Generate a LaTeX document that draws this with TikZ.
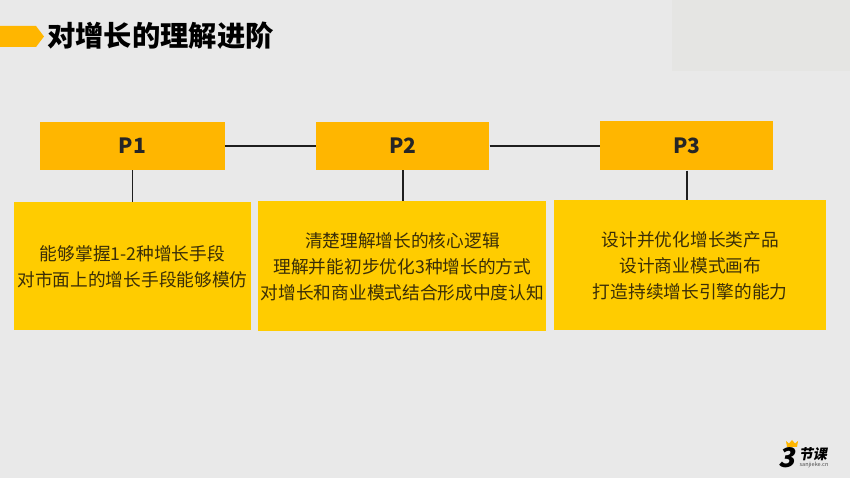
\documentclass[tikz,border=0pt]{standalone}
\usepackage{fontspec}
\setmainfont{Noto Sans CJK SC}
\usetikzlibrary{positioning}
\definecolor{pagegray}{HTML}{E9E9E9}
\definecolor{patchgray}{HTML}{E5E5E3}
\definecolor{headorange}{HTML}{FFB600}
\definecolor{bodyyellow}{HTML}{FFCC00}
\definecolor{bodytext}{HTML}{3A2E08}
\definecolor{linedark}{HTML}{1E1E1E}
\tikzset{
head/.style={rectangle,minimum width=173pt,minimum height=48pt,inner sep=0pt,
fill=headorange,text=black!85,font=\fontsize{21pt}{24pt}\selectfont\bfseries},
body/.style={rectangle,minimum height=129pt,inner sep=0pt,align=center,
fill=bodyyellow,text=bodytext,font=\fontsize{17.7pt}{26pt}\selectfont},
link/.style={draw=linedark,line width=1.5pt}
}

\begin{document}
\begin{tikzpicture}[x=1pt,y=1pt]
\fill[pagegray] (0,0) rectangle (850,478);
\useasboundingbox (0,0) rectangle (850,478);
\fill[patchgray] (672,407) rectangle (850,478);

% title
\fill[headorange] (0,452) -- (36,452) -- (44,441.5) -- (36,431) -- (0,431) -- cycle;
\node[anchor=west,inner sep=0pt,text=black,font=\fontsize{28.3pt}{30pt}\selectfont\bfseries] (title) at (47,442) {对增长的理解进阶};

\node[head,minimum width=185pt] (P1) at (132.5,332) {P1};
\node[head,right=91pt of P1] (P2) {P2};
\node[head,minimum height=49pt,right=110.5pt of P2] (P3) {P3};

\node[body,minimum width=237pt,minimum height=128pt,below=32pt of P1] (B1) {\fontsize{17.7pt}{28pt}\selectfont 能够掌握1-2种增长手段\\对市面上的增长手段能够模仿};
\node[body,minimum width=288pt,minimum height=130pt,below=31pt of P2,xshift=-0.5pt] (B2) {清楚理解增长的核心逻辑\\理解并能初步优化3种增长的方式\\对增长和商业模式结合形成中度认知};
\node[body,minimum width=272pt,minimum height=130pt,below=29.5pt of P3,xshift=3.5pt] (B3) {设计并优化增长类产品\\设计商业模式画布\\打造持续增长引擎的能力};

\draw[link] (P1) -- (P2);
\draw[link] (P2) -- (P3);
\draw[link] (P1) -- (B1);
\draw[link] (P2.south) -- (P2.south |- B2.north);
\draw[link] (P3.south) -- (P3.south |- B3.north);

% logo
\fill[headorange] (787,31) -- (786,37) -- (789,34.5) -- (792,38) -- (795,34.5) -- (798,37) -- (797,31) -- cycle;
\node[inner sep=0pt,text=black,xslant=0.2,font=\fontsize{27pt}{27pt}\selectfont\bfseries] (logo3) at (788.5,20) {3};
\node[inner sep=0pt,text=black,xslant=0.2,font=\fontsize{14pt}{15pt}\selectfont\bfseries] (logotext) at (814,24) {节课};
\node[inner sep=0pt,text=black!70,font=\fontsize{5.5pt}{6pt}\selectfont] (logourl) at (814,13) {sanjieke.cn};
\end{tikzpicture}
\end{document}
